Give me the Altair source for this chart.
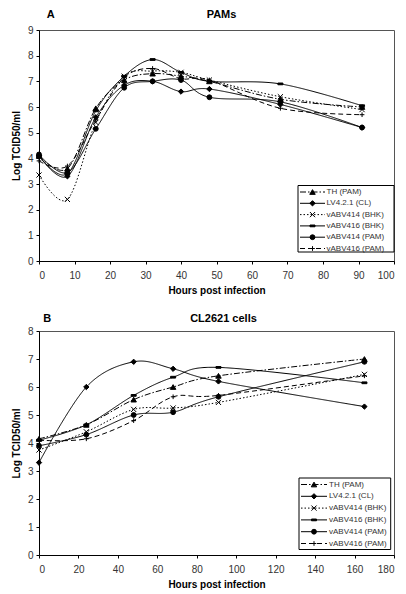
import altair as alt
import pandas as pd

series = ["TH (PAM)", "LV4.2.1 (CL)", "vABV414 (BHK)", "vABV416 (BHK)", "vABV414 (PAM)", "vABV416 (PAM)"]

# Panel A: PAMs
hours_a = [0, 8, 16, 24, 32, 40, 48, 68, 91]
a_th = [4.1, 3.6, 5.95, 7.05, 7.3, 7.2, 7.0, 6.3, 6.0]
a_lv = [4.1, 3.3, 5.6, 6.85, 7.0, 6.6, 6.7, 6.1, 5.2]
a_414bhk = [3.35, 2.4, 5.4, 7.2, 7.4, 7.35, 7.05, 6.4, 5.9]
a_416bhk = [4.1, 3.4, 5.85, 7.2, 7.85, 7.35, 7.0, 6.9, 6.05]
a_414pam = [4.15, 3.45, 5.15, 6.75, 7.0, 7.05, 6.38, 6.2, 5.2]
a_416pam = [3.9, 3.7, 5.5, 7.15, 7.5, 7.1, 7.05, 5.95, 5.7]

# Panel B: CL2621 cells
hours_b = [0, 24, 48, 68, 91, 165]
b_th = [4.15, 4.65, 5.55, 6.0, 6.4, 7.0]
b_lv = [3.3, 6.0, 6.9, 6.65, 6.2, 5.3]
b_414bhk = [3.75, 4.4, 5.2, 5.25, 5.45, 6.45]
b_416bhk = [4.1, 4.65, 5.7, 6.35, 6.7, 6.15]
b_414pam = [3.9, 4.3, 5.0, 5.1, 5.65, 6.9]
b_416pam = [4.1, 4.15, 4.8, 5.65, 5.7, 6.4]

dashes = [[6, 2, 1.5, 2], [1, 0], [1.5, 2], [1, 0], [1, 0], [5, 3]]
shapes = ["triangle-up", "diamond", "M-1,-1L1,1M-1,1L1,-1", "M-1,-0.35H1V0.35H-1Z", "circle", "M-1,0H1M0,-1V1"]
sizes = [30, 22, 30, 14, 30, 42]

FONT = "Liberation Sans"


def long_df(hours, cols):
    rows = []
    for name, vals in zip(series, cols):
        for h, v in zip(hours, vals):
            rows.append({"hour": h, "value": v, "series": name})
    return pd.DataFrame(rows)


def panel(df, xmax, xstep, ymax, w, h, title, letter, letter_x, title_x, head_y, leg):
    dash_enc = alt.StrokeDash("series:N", scale=alt.Scale(domain=series, range=dashes), legend=None)
    shape_enc = alt.Shape("series:N", scale=alt.Scale(domain=series, range=shapes), legend=None)
    size_enc = alt.Size("series:N", scale=alt.Scale(domain=series, range=sizes), legend=None)
    x = alt.X("hour:Q", scale=alt.Scale(domain=[0, xmax], nice=False),
              axis=alt.Axis(values=list(range(0, xmax + 1, xstep)), title="Hours post infection",
                            tickSize=3, labelPadding=6, titlePadding=5))
    y = alt.Y("value:Q", scale=alt.Scale(domain=[0, ymax], nice=False),
              axis=alt.Axis(values=list(range(0, ymax + 1)), title="Log TCID50/ml",
                            tickSize=3, labelPadding=3, titlePadding=6))
    base = alt.Chart(df)
    lines = base.mark_line(interpolate="cardinal", color="black", strokeWidth=1).encode(
        x=x, y=y, strokeDash=dash_enc, detail="series:N")
    pts = base.mark_point(filled=True, fill="black", stroke="black", strokeWidth=1, opacity=1).encode(
        x=x, y=y, shape=shape_enc, size=size_enc)
    data_layer = alt.layer(lines, pts)

    bx0, bx1, by0, by1, ly0, ly1, lx0, lx1, lmx, ltx = leg
    ldf = pd.DataFrame({"series": series})
    one = pd.DataFrame({"k": [0]})
    ly = alt.Y("series:N", scale=alt.Scale(type="point", domain=series, range=[ly0, ly1], padding=0), axis=None)
    box = alt.Chart(one).mark_rect(fill="white", stroke="black", strokeWidth=1).encode(
        x=alt.value(bx0), x2=alt.value(bx1), y=alt.value(by0), y2=alt.value(by1))
    lrule = alt.Chart(ldf).mark_rule(color="black", strokeWidth=1).encode(
        x=alt.value(lx0), x2=alt.value(lx1), y=ly, strokeDash=dash_enc)
    lpts = alt.Chart(ldf).mark_point(filled=True, fill="black", stroke="black", strokeWidth=1, opacity=1).encode(
        x=alt.value(lmx), y=ly, shape=shape_enc, size=size_enc)
    ltxt = alt.Chart(ldf).mark_text(align="left", baseline="middle", fontSize=8, color="#333", font=FONT).encode(
        x=alt.value(ltx), y=ly, text="series:N")
    let = alt.Chart(one).mark_text(
        text=letter, fontSize=11, fontWeight="bold", font=FONT, color="black", align="center", baseline="middle"
    ).encode(x=alt.value(letter_x), y=alt.value(head_y))
    ttl = alt.Chart(one).mark_text(
        text=title, fontSize=11, fontWeight="bold", font=FONT, color="black", align="center", baseline="middle"
    ).encode(x=alt.value(title_x), y=alt.value(head_y))
    legend_layer = alt.layer(box, lrule, lpts, ltxt, let, ttl)

    return alt.layer(data_layer, legend_layer).resolve_scale(y="independent").properties(width=w, height=h)


df_a = long_df(hours_a, [a_th, a_lv, a_414bhk, a_416bhk, a_414pam, a_416pam])
df_b = long_df(hours_b, [b_th, b_lv, b_414bhk, b_416bhk, b_414pam, b_416pam])

pa = panel(df_a, 100, 10, 9, 355, 231, "PAMs", "A", 11.6, 182.5, -15.5,
           (259, 355, 155.5, 222, 162, 218.5, 261, 286, 273.5, 287.5))
pb = panel(df_b, 180, 20, 8, 355, 224, "CL2621 cells", "B", 8.3, 184.5, -12.5,
           (260, 351.7, 147, 218.5, 153.5, 212.5, 262, 288, 275, 290))

chart = alt.vconcat(pa, pb, spacing=16).properties(
    padding={"left": 2, "top": 0, "right": 2, "bottom": 2},
    background="white",
).configure_view(stroke="#555", strokeWidth=1).configure_axis(
    grid=False, domainColor="black", tickColor="black", labelFont=FONT, labelFontSize=10,
    labelColor="#333", titleFont=FONT, titleFontSize=10, titleFontWeight="bold", titleColor="black",
    domainWidth=1,
)

chart.save("out.html", embed_options={"renderer": "svg", "actions": False})
